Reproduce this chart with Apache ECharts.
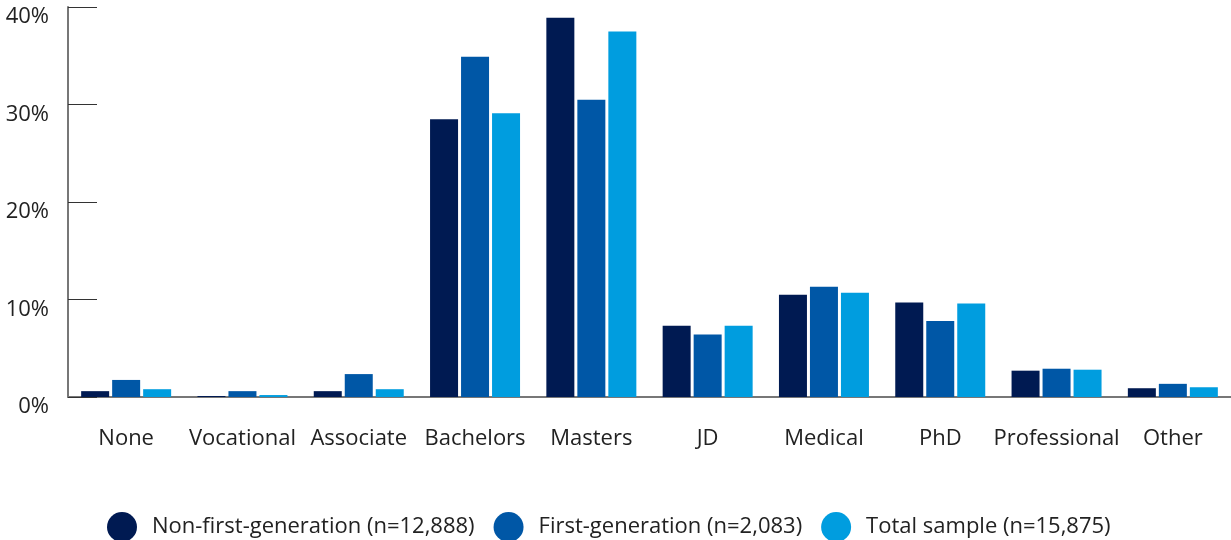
<!DOCTYPE html>
<html>
<head>
<meta charset="utf-8">
<script src="https://cdn.jsdelivr.net/npm/echarts@6/dist/echarts.min.js"></script>
<style>html,body{margin:0;padding:0;background:#fff}#c{width:1231px;height:540px}</style>
</head>
<body>
<div id="c"></div>
<script>
const categories = ['None','Vocational','Associate','Bachelors','Masters','JD','Medical','PhD','Professional','Other'];
const seriesNames = ['Non-first-generation (n=12,888)','First-generation (n=2,083)','Total sample (n=15,875)'];
const nonFirstGen = [0.6, 0.1, 0.6, 28.5, 38.9, 7.3, 10.5, 9.7, 2.7, 0.9];
const firstGen    = [1.75, 0.6, 2.35, 34.9, 30.5, 6.4, 11.3, 7.8, 2.9, 1.35];
const totalSample = [0.8, 0.2, 0.8, 29.1, 37.5, 7.3, 10.7, 9.6, 2.8, 1.0];
const yTicks = [0, 10, 20, 30, 40];
const colors = ['#001a52', '#0057a6', '#009ddf'];
const FONT = 'Open Sans';

const chart = echarts.init(document.getElementById('c'), null, {renderer:'canvas'});
const mk = (name, data, i) => ({
  name, type:'bar', data, barWidth:28, barGap:'10.7%',
  itemStyle:{color:colors[i]}, emphasis:{disabled:true}
});
chart.setOption({
  animation:false,
  textStyle:{fontFamily:FONT},
  grid:{left:68, right:0, top:7, bottom:143, containLabel:false},
  legend:{
    top:507, left:102, icon:'circle', itemWidth:30, itemHeight:30, itemGap:19,
    textStyle:{fontSize:22, color:'#222', fontFamily:FONT, padding:[0,0,0,10]},
    data:seriesNames
  },
  xAxis:{
    type:'category', data:categories,
    axisLine:{lineStyle:{color:'#777', width:2}},
    axisTick:{show:false},
    axisLabel:{fontSize:22, color:'#222', margin:31, fontFamily:FONT, interval:0}
  },
  yAxis:{
    type:'value', min:0, max:40, interval:10,
    axisLine:{show:true, lineStyle:{color:'#777', width:2}},
    axisTick:{show:true, inside:true, length:29, lineStyle:{color:'#333', width:1}},
    splitLine:{show:false},
    axisLabel:{fontSize:22, color:'#222', margin:19, fontFamily:FONT,
      verticalAlign:'top', padding:[-1,0,0,0],
      formatter:v => yTicks.includes(v) ? v + '%' : ''}
  },
  series:[mk(seriesNames[0], nonFirstGen, 0), mk(seriesNames[1], firstGen, 1), mk(seriesNames[2], totalSample, 2)]
});
</script>
</body>
</html>
